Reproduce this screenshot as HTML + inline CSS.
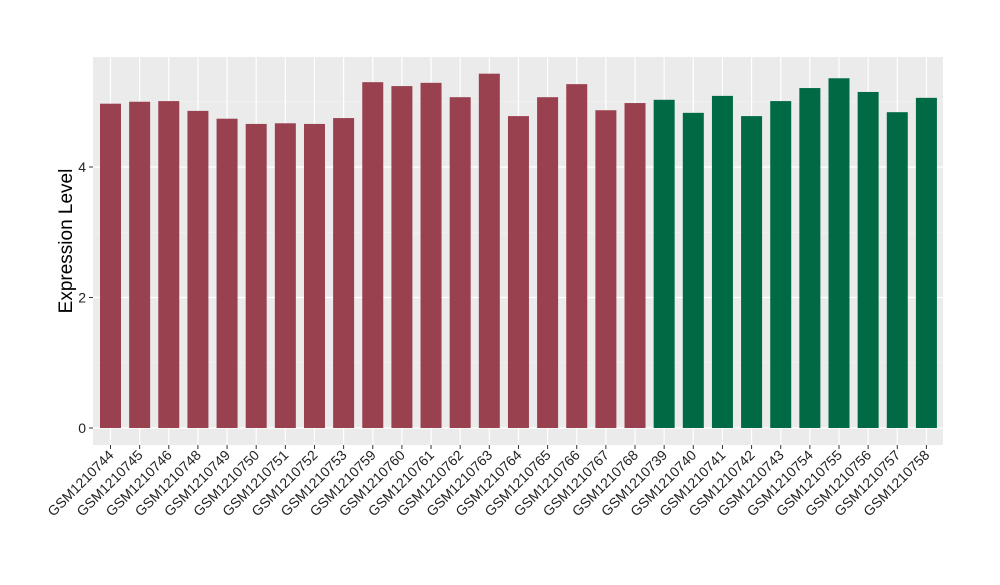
<!DOCTYPE html>
<html><head><meta charset="utf-8"><style>
body{margin:0;background:#fff;}
svg text{font-family:"Liberation Sans",sans-serif;}
</style></head><body>
<svg id="chart" width="1000" height="580" xmlns="http://www.w3.org/2000/svg"></svg>
<script>
const categories=["GSM1210744","GSM1210745","GSM1210746","GSM1210748","GSM1210749","GSM1210750","GSM1210751","GSM1210752","GSM1210753","GSM1210759","GSM1210760","GSM1210761","GSM1210762","GSM1210763","GSM1210764","GSM1210765","GSM1210766","GSM1210767","GSM1210768","GSM1210739","GSM1210740","GSM1210741","GSM1210742","GSM1210743","GSM1210754","GSM1210755","GSM1210756","GSM1210757","GSM1210758"];
const values=[4.97,5.00,5.01,4.86,4.74,4.66,4.67,4.66,4.75,5.30,5.24,5.29,5.07,5.43,4.78,5.07,5.27,4.87,4.98,5.03,4.83,5.09,4.78,5.01,5.21,5.36,5.15,4.84,5.06];
const groups=["a","a","a","a","a","a","a","a","a","a","a","a","a","a","a","a","a","a","a","b","b","b","b","b","b","b","b","b","b"];
const yTicks=[0,2,4];
const NS="http://www.w3.org/2000/svg";
const svg=document.getElementById('chart');
const L=93,R=943,T=57,B=445;
const y0=428,unit=65.25;
function ys(v){return y0-v*unit;}
const step=29.14,x0=110.5;
function xs(i){return x0+step*i;}
function mk(tag,attrs){const e=document.createElementNS(NS,tag);for(const k in attrs)e.setAttribute(k,attrs[k]);svg.appendChild(e);return e;}
const panel=mk('rect',{x:L,y:T,width:R-L,height:B-T,fill:'#ebebeb'});


for(let v=1;v<=5;v+=2){const g=mk('line',{x1:L,x2:R,y1:ys(v),y2:ys(v),stroke:'#f5f5f5','stroke-width':0.6});

}
yTicks.forEach(v=>{const g=mk('line',{x1:L,x2:R,y1:ys(v),y2:ys(v),stroke:'#fff','stroke-width':1.2});


const t=mk('line',{x1:L-4,x2:L,y1:ys(v),y2:ys(v),stroke:'#333','stroke-width':1});


const tx=mk('text',{x:L-7,y:ys(v)+5,'text-anchor':'end','font-size':14,fill:'#222'});tx.textContent=v;

});
categories.forEach((c,i)=>{const g=mk('line',{x1:xs(i),x2:xs(i),y1:T,y2:B,stroke:'#fff','stroke-width':1.2});

});
const bw=21;
categories.forEach((c,i)=>{
const b=mk('rect',{x:xs(i)-bw/2,y:ys(values[i]),width:bw,height:ys(0)-ys(values[i]),fill:groups[i]==='a'?'#9a4150':'#006a45'});


const t=mk('line',{x1:xs(i),x2:xs(i),y1:B,y2:B+4,stroke:'#333','stroke-width':1});


const tx=mk('text',{x:xs(i)+4,y:B+11,'text-anchor':'end','font-size':14,fill:'#222',transform:`rotate(-45 ${xs(i)+4} ${B+11})`});tx.textContent=c;


});
const yt=mk('text',{x:72,y:(T+B)/2-10,'text-anchor':'middle','font-size':19,fill:'#000',transform:`rotate(-90 72 ${(T+B)/2-10})`});yt.textContent='Expression Level';


</script>
</body></html>
